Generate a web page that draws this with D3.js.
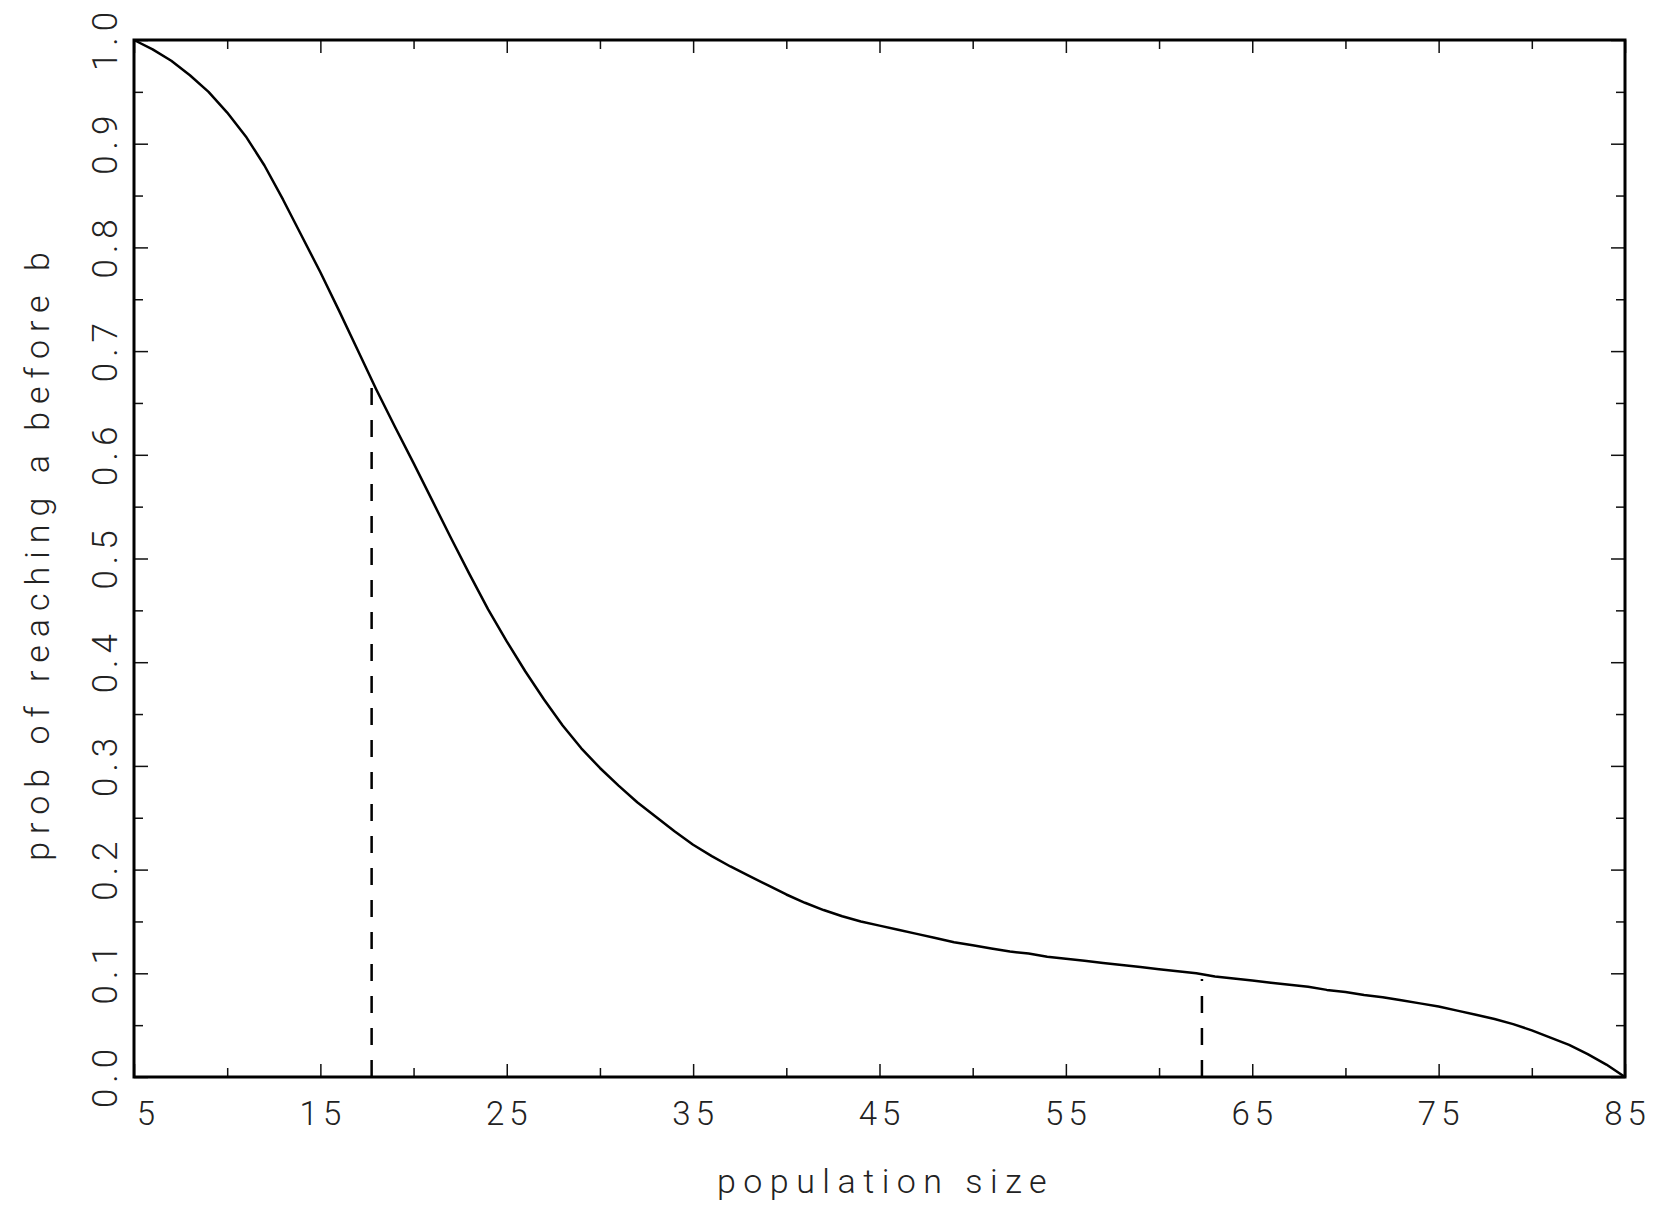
<!DOCTYPE html>
<html>
<head>
<meta charset="utf-8">
<script src="https://cdn.jsdelivr.net/npm/d3@7"></script>
<style>
  body { margin: 0; background: #fff; }
  text { font-family: Roboto, "DejaVu Sans", sans-serif; font-weight: 300; fill: #222; }
</style>
</head>
<body>
<main></main>
<script>
// population size vs probability
const popSize = [5, 6, 7, 8, 9, 10, 11, 12, 13, 14, 15, 16, 17, 18, 19, 20, 21, 22, 23, 24,
  25, 26, 27, 28, 29, 30, 31, 32, 33, 34, 35, 36, 37, 38, 39, 40, 41, 42, 43, 44,
  45, 46, 47, 48, 49, 50, 51, 52, 53, 54, 55, 56, 57, 58, 59, 60, 61, 62, 63, 64,
  65, 66, 67, 68, 69, 70, 71, 72, 73, 74, 75, 76, 77, 78, 79, 80, 81, 82, 83, 84, 85];
const probAB = [1.000, 0.991, 0.980, 0.966, 0.950, 0.930, 0.907, 0.879, 0.846, 0.811,
  0.776, 0.739, 0.701, 0.663, 0.627, 0.592, 0.556, 0.520, 0.485, 0.451,
  0.420, 0.391, 0.364, 0.339, 0.317, 0.298, 0.281, 0.265, 0.251, 0.237,
  0.224, 0.213, 0.203, 0.194, 0.185, 0.176, 0.168, 0.161, 0.155, 0.150,
  0.146, 0.142, 0.138, 0.134, 0.130, 0.127, 0.124, 0.121, 0.119, 0.116,
  0.114, 0.112, 0.110, 0.108, 0.106, 0.104, 0.102, 0.100, 0.097, 0.095,
  0.093, 0.091, 0.089, 0.087, 0.084, 0.082, 0.079, 0.077, 0.074, 0.071,
  0.068, 0.064, 0.060, 0.056, 0.051, 0.045, 0.038, 0.031, 0.022, 0.012, 0.000];

// dashed markers
const markX = [17.75, 62.3];
const markTop = [0.667, 0.0945];

const xMajor = [5, 15, 25, 35, 45, 55, 65, 75, 85];
const xMinor = [10, 20, 30, 40, 50, 60, 70, 80];
const yMajor = [0, 0.1, 0.2, 0.3, 0.4, 0.5, 0.6, 0.7, 0.8, 0.9, 1.0];
const yMinor = [0.05, 0.15, 0.25, 0.35, 0.45, 0.55, 0.65, 0.75, 0.85, 0.95];

const xTitle = "population size";
const yTitle = "prob of reaching a before b";

const w = 1654;
const h = 1207;
const plotL = 134, plotR = 1625, plotT = 40, plotB = 1077;

const svg = d3.select("main")
  .append("svg")
  .attr("width", w)
  .attr("height", h);

const x = d3.scaleLinear().domain([5, 85]).range([plotL, plotR]);
const y = d3.scaleLinear().domain([0, 1]).range([plotB, plotT]);

function styleTicks(g) {
  g.select(".domain").remove();
  g.selectAll(".tick line").attr("stroke", "#111").attr("stroke-width", 1.5);
}

// minor ticks on all four sides
svg.append("g").attr("transform", `translate(0,${plotB})`)
  .call(d3.axisBottom(x).tickValues(xMinor).tickSize(-9).tickFormat(""))
  .call(styleTicks);
svg.append("g").attr("transform", `translate(0,${plotT})`)
  .call(d3.axisTop(x).tickValues(xMinor).tickSize(-9).tickFormat(""))
  .call(styleTicks);
svg.append("g").attr("transform", `translate(${plotL},0)`)
  .call(d3.axisLeft(y).tickValues(yMinor).tickSize(-9).tickFormat(""))
  .call(styleTicks);
svg.append("g").attr("transform", `translate(${plotR},0)`)
  .call(d3.axisRight(y).tickValues(yMinor).tickSize(-9).tickFormat(""))
  .call(styleTicks);

// major ticks with labels
const xAxis = svg.append("g").attr("transform", `translate(0,${plotB})`)
  .call(d3.axisBottom(x).tickValues(xMajor).tickSize(-13).tickFormat(d3.format("d")))
  .call(styleTicks);
xAxis.selectAll("text")
  .attr("y", 48)
  .attr("dy", null)
  .style("font-size", "33px")
  .style("letter-spacing", "5px")
  .attr("dx", d => d === 5 ? 14 : 2);

svg.append("g").attr("transform", `translate(0,${plotT})`)
  .call(d3.axisTop(x).tickValues(xMajor).tickSize(-13).tickFormat(""))
  .call(styleTicks);

const yAxis = svg.append("g").attr("transform", `translate(${plotL},0)`)
  .call(d3.axisLeft(y).tickValues(yMajor).tickSize(-14).tickFormat(d3.format(".1f")))
  .call(styleTicks);
yAxis.selectAll("text")
  .attr("x", 2)
  .attr("y", -17)
  .attr("dy", null)
  .attr("transform", "rotate(-90)")
  .attr("text-anchor", "middle")
  .style("font-size", "35px")
  .style("letter-spacing", "6px");

svg.append("g").attr("transform", `translate(${plotR},0)`)
  .call(d3.axisRight(y).tickValues(yMajor).tickSize(-14).tickFormat(""))
  .call(styleTicks);

// curve
const line = d3.line()
  .x(i => x(popSize[i]))
  .y(i => y(probAB[i]));

svg.append("path")
  .attr("d", line(d3.range(popSize.length)))
  .attr("fill", "none")
  .attr("stroke", "#000")
  .attr("stroke-width", 2.5)
  .attr("stroke-linejoin", "round");

// dashed markers, drawn from the axis up
svg.selectAll("line.mark")
  .data(markX)
  .enter()
  .append("line")
  .attr("class", "mark")
  .attr("x1", d => x(d))
  .attr("x2", d => x(d))
  .attr("y1", y(0))
  .attr("y2", (d, i) => y(markTop[i]))
  .attr("stroke", "#000")
  .attr("stroke-width", 2.5)
  .attr("stroke-dasharray", "17,15");

// frame
svg.append("rect")
  .attr("x", plotL)
  .attr("y", plotT)
  .attr("width", plotR - plotL)
  .attr("height", plotB - plotT)
  .attr("fill", "none")
  .attr("stroke", "#000")
  .attr("stroke-width", 3);

// titles
svg.append("text")
  .attr("x", (plotL + plotR) / 2 + 6)
  .attr("y", 1193)
  .attr("text-anchor", "middle")
  .style("font-size", "34px")
  .style("letter-spacing", "7.5px")
  .text(xTitle);

svg.append("text")
  .attr("transform", `translate(49,${(plotT + plotB) / 2 - 6})rotate(-90)`)
  .attr("text-anchor", "middle")
  .style("font-size", "34px")
  .style("letter-spacing", "8px")
  .text(yTitle);
</script>
</body>
</html>
